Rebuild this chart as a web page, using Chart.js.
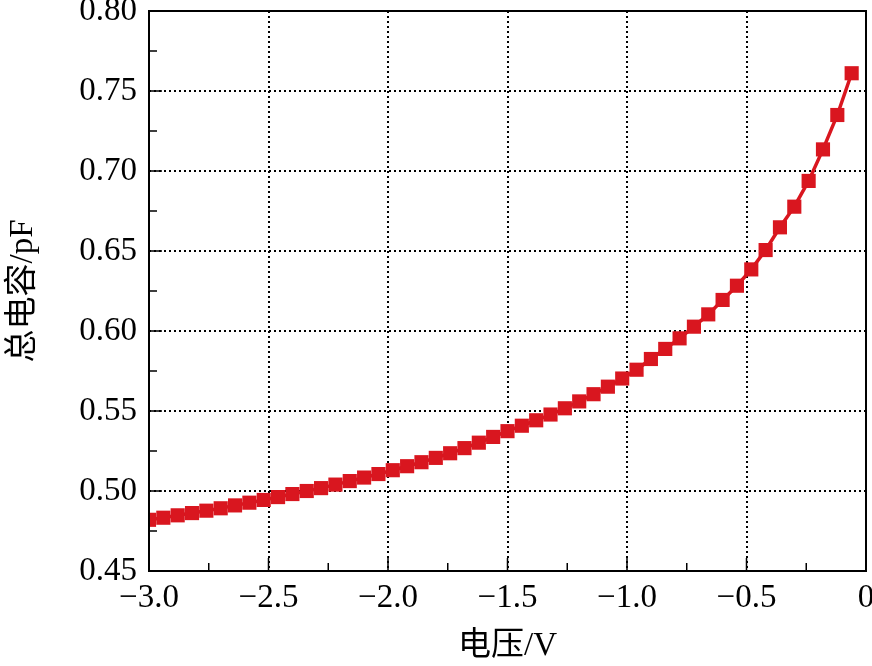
<!DOCTYPE html>
<html>
<head>
<meta charset="utf-8">
<script src="https://cdn.jsdelivr.net/npm/chart.js@4.4.1/dist/chart.umd.min.js"></script>
<style>
  html, body { margin: 0; padding: 0; background: #fff; }
  #wrap { width: 872px; height: 666px; }
</style>
</head>
<body>
<div id="wrap"><canvas id="grafica"></canvas></div>
<script>
// datos
const voltaje = [
  -3.00, -2.94, -2.88, -2.82, -2.76, -2.70, -2.64, -2.58, -2.52, -2.46,
  -2.40, -2.34, -2.28, -2.22, -2.16, -2.10, -2.04, -1.98, -1.92, -1.86,
  -1.80, -1.74, -1.68, -1.62, -1.56, -1.50, -1.44, -1.38, -1.32, -1.26,
  -1.20, -1.14, -1.08, -1.02, -0.96, -0.90, -0.84, -0.78, -0.72, -0.66,
  -0.60, -0.54, -0.48, -0.42, -0.36, -0.30, -0.24, -0.18, -0.12, -0.06
];
const capacitancia = [
  0.4820, 0.4833, 0.4848, 0.4862, 0.4877, 0.4892, 0.4910, 0.4927, 0.4944, 0.4962,
  0.4981, 0.5000, 0.5018, 0.5040, 0.5062, 0.5084, 0.5106, 0.5130, 0.5155, 0.5180,
  0.5207, 0.5236, 0.5268, 0.5302, 0.5338, 0.5374, 0.5408, 0.5442, 0.5478, 0.5517,
  0.5560, 0.5605, 0.5652, 0.5703, 0.5758, 0.5825, 0.5888, 0.5954, 0.6027, 0.6104,
  0.6194, 0.6283, 0.6385, 0.6506, 0.6648, 0.6777, 0.6938, 0.7135, 0.7350, 0.7611
];
const ticksX = [-3.0, -2.5, -2.0, -1.5, -1.0, -0.5, 0];
const ticksY = [0.45, 0.50, 0.55, 0.60, 0.65, 0.70, 0.75, 0.80];

const fuente = "'Liberation Serif', 'Noto Sans CJK SC', serif";
const rojo = "#d9161f";

function esMayor(v, lista) {
  return lista.some(t => Math.abs(t - v) < 1e-6);
}

// marco y ticks hacia dentro
const marco = {
  id: "marco",
  afterDraw(chart) {
    const { ctx, chartArea: a, scales } = chart;
    ctx.save();
    ctx.strokeStyle = "#000";
    ctx.lineWidth = 2;
    ctx.strokeRect(a.left, a.top, a.right - a.left, a.bottom - a.top);
    ctx.lineWidth = 1.5;
    ctx.beginPath();
    scales.x.ticks.forEach(t => {
      const px = scales.x.getPixelForValue(t.value);
      const len = esMayor(t.value, ticksX) ? 13 : 8;
      ctx.moveTo(px, a.bottom);
      ctx.lineTo(px, a.bottom - len);
    });
    scales.y.ticks.forEach(t => {
      const py = scales.y.getPixelForValue(t.value);
      const len = esMayor(t.value, ticksY) ? 13 : 8;
      ctx.moveTo(a.left, py);
      ctx.lineTo(a.left + len, py);
    });
    ctx.stroke();
    ctx.restore();
  }
};

new Chart(document.getElementById("grafica").getContext("2d"), {
  type: "line",
  data: {
    datasets: [{
      data: voltaje.map((v, i) => ({ x: v, y: capacitancia[i] })),
      borderColor: rojo,
      backgroundColor: rojo,
      borderWidth: 3.5,
      pointStyle: "rect",
      pointRadius: 10,
      pointHoverRadius: 10,
      pointBorderWidth: 0,
      tension: 0
    }]
  },
  options: {
    responsive: true,
    maintainAspectRatio: false,
    animation: false,
    layout: { autoPadding: false, padding: { top: 11, right: 6, left: 0, bottom: 0 } },
    plugins: { legend: { display: false }, tooltip: { enabled: false } },
    scales: {
      x: {
        type: "linear",
        min: -3,
        max: 0,
        afterFit(s) { s.height = 95; s.paddingLeft = 0; s.paddingRight = 0; },
        afterBuildTicks(s) {
          s.ticks = [];
          for (let k = 0; k <= 12; k++) s.ticks.push({ value: -3 + k * 0.25 });
        },
        ticks: {
          autoSkip: false,
          maxRotation: 0,
          padding: 8,
          color: "#000",
          font: { family: fuente, size: 33 },
          callback: v => esMayor(v, ticksX) ? (Math.abs(v) < 1e-9 ? "0" : "\u2212" + Math.abs(v).toFixed(1)) : ""
        },
        grid: {
          drawTicks: false,
          color: c => (c.tick && esMayor(c.tick.value, ticksX) && c.tick.value > -3 && c.tick.value < 0) ? "#000" : "rgba(0,0,0,0)",
          lineWidth: 2
        },
        border: { display: false, dash: [2, 3] },
        title: {
          display: true,
          text: "电压/V",
          color: "#000",
          font: { family: fuente, size: 33 },
          padding: { top: 0, bottom: 0 }
        }
      },
      y: {
        min: 0.45,
        max: 0.80,
        afterFit(s) { s.width = 149; s.paddingTop = 0; s.paddingBottom = 0; },
        afterBuildTicks(s) {
          s.ticks = [];
          for (let k = 0; k <= 14; k++) s.ticks.push({ value: 0.45 + k * 0.025 });
        },
        ticks: {
          autoSkip: false,
          padding: 12,
          color: "#000",
          font: { family: fuente, size: 33 },
          callback: v => esMayor(v, ticksY) ? v.toFixed(2) : ""
        },
        grid: {
          drawTicks: false,
          color: c => (c.tick && esMayor(c.tick.value, ticksY) && c.tick.value > 0.451 && c.tick.value < 0.799) ? "#000" : "rgba(0,0,0,0)",
          lineWidth: 2
        },
        border: { display: false, dash: [2, 3] },
        title: {
          display: true,
          text: "总电容/pF",
          color: "#000",
          font: { family: fuente, size: 33 },
          padding: { top: 4, bottom: 0 }
        }
      }
    }
  },
  plugins: [marco]
});
</script>
</body>
</html>
